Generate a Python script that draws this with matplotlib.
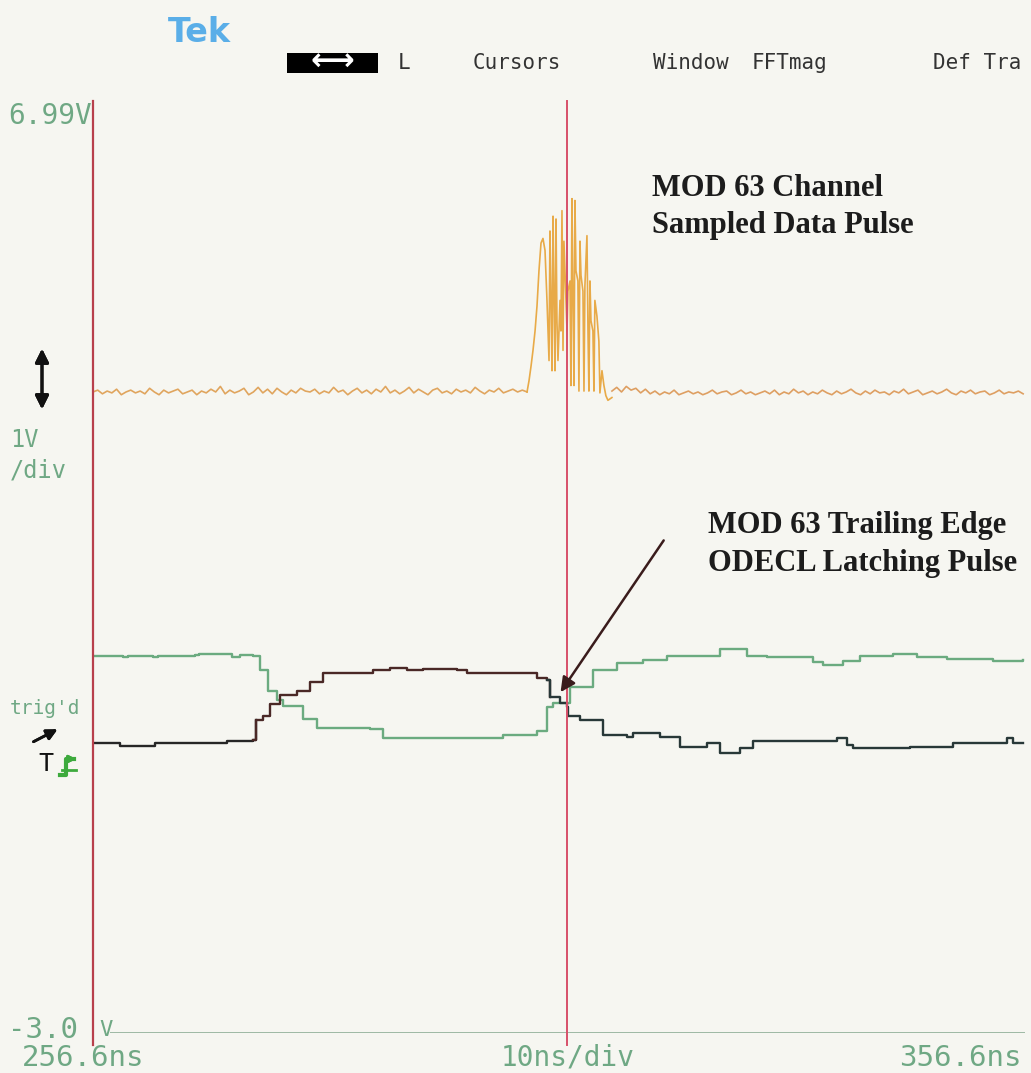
import numpy as np
import matplotlib.pyplot as plt
from matplotlib.lines import Line2D

W, H = 1031, 1073

# time axis (ns) and volts
t_start, t_stop = 256.6, 356.6
v_bot, v_top = -3.0, 7.0
cursor_t = 307.5

# channel 1: sampled data pulse (yellow/orange)
base_left_v = [3.93, 3.95, 3.91, 3.94, 3.92, 3.96, 3.90, 3.93, 3.95, 3.92, 3.94, 3.91,
               3.97, 3.93, 3.90, 3.95, 3.92, 3.94, 3.96, 3.91, 3.93, 3.95, 3.90, 3.94,
               3.92, 3.96, 3.93, 3.99, 3.91, 3.95, 3.92, 3.94, 3.97, 3.90, 3.93, 3.98,
               3.92, 3.96, 3.91, 3.97, 3.93, 3.90, 3.95, 3.92, 3.97, 3.94, 3.93, 3.96,
               3.91, 3.94, 3.92, 3.98, 3.93, 3.95, 3.90, 3.94, 3.97, 3.92, 3.95, 3.91,
               3.96, 3.93, 3.99, 3.92, 3.95, 3.91, 3.94, 3.98, 3.92, 3.96, 3.93, 3.90,
               3.95, 3.97, 3.92, 3.94, 3.91, 3.96, 3.93, 3.95, 3.92, 3.98, 3.94, 3.91,
               3.95, 3.93, 3.97, 3.92, 3.94, 3.96, 3.93, 3.95, 3.93]
pulse_t = [303.17, 303.38, 303.60, 303.81, 304.03, 304.24, 304.45, 304.67, 304.88, 305.10,
           305.31, 305.53, 305.63, 305.74, 305.85, 305.96, 306.06, 306.17, 306.28, 306.38,
           306.49, 306.71, 306.81, 306.92, 307.03, 307.13, 307.35, 307.46, 307.56, 307.78,
           307.88, 307.99, 308.10, 308.21, 308.31, 308.42, 308.63, 308.74, 308.85, 308.96,
           309.17, 309.28, 309.38, 309.60, 309.71, 309.81, 309.92, 310.03, 310.24, 310.35,
           310.45, 310.67, 310.88, 310.99, 311.21, 311.42, 311.63, 311.85, 312.28]
pulse_v = [3.93, 4.05, 4.21, 4.38, 4.59, 4.86, 5.24, 5.54, 5.59, 5.46,
           4.92, 4.27, 5.67, 4.92, 4.16, 5.83, 5.02, 4.16, 5.80, 4.70,
           4.27, 4.92, 4.59, 5.89, 4.38, 5.56, 4.92, 4.59, 5.02, 5.13,
           4.00, 6.02, 4.92, 4.00, 6.00, 5.24, 5.13, 3.94, 5.56, 5.19,
           5.02, 3.94, 5.08, 5.62, 4.59, 3.94, 5.13, 4.70, 4.59, 3.94,
           4.92, 4.75, 4.48, 3.92, 4.16, 4.00, 3.89, 3.84, 3.87]
base_right_v = [3.94, 3.98, 3.93, 3.99, 3.95, 3.97, 3.92, 3.96, 3.91, 3.94, 3.90, 3.93,
                3.91, 3.95, 3.90, 3.92, 3.94, 3.91, 3.93, 3.90, 3.92, 3.95, 3.91, 3.93,
                3.94, 3.90, 3.92, 3.95, 3.91, 3.93, 3.90, 3.92, 3.94, 3.91, 3.95, 3.90,
                3.93, 3.91, 3.96, 3.92, 3.94, 3.90, 3.93, 3.91, 3.95, 3.92, 3.90, 3.94,
                3.91, 3.93, 3.96, 3.92, 3.90, 3.94, 3.91, 3.95, 3.92, 3.93, 3.90, 3.94,
                3.92, 3.96, 3.91, 3.93, 3.95, 3.90, 3.92, 3.94, 3.91, 3.93, 3.96, 3.92,
                3.90, 3.94, 3.92, 3.95, 3.91, 3.93, 3.94, 3.90, 3.92, 3.95, 3.91, 3.93,
                3.92, 3.94, 3.91]

# channel 2 (green) and channel 3 (dark), stepped traces
green_t = [256.6, 259.8, 260.4, 263.0, 263.6, 267.5, 268.0, 271.5, 272.4, 273.8, 274.5,
           275.4, 276.3, 277.0, 279.1, 280.6, 286.3, 287.7, 300.6, 304.2, 305.3, 306.0,
           307.8, 310.2, 312.8, 315.6, 318.2, 321.0, 323.9, 326.0, 326.8, 328.9, 333.9,
           334.9, 337.1, 338.9, 342.4, 345.0, 348.2, 353.2, 356.4]
green_v = [1.08, 1.06, 1.08, 1.06, 1.08, 1.09, 1.10, 1.07, 1.09, 1.08, 0.92,
           0.70, 0.60, 0.54, 0.40, 0.30, 0.29, 0.19, 0.22, 0.27, 0.52, 0.57,
           0.74, 0.92, 1.00, 1.03, 1.08, 1.08, 1.15, 1.15, 1.08, 1.06, 1.01,
           0.98, 1.02, 1.08, 1.10, 1.06, 1.04, 1.02, 1.03]
dark_t = [256.6, 259.5, 262.7, 263.3, 266.0, 268.5, 271.0, 273.8, 274.1, 274.8, 275.6,
          276.7, 278.5, 279.9, 281.3, 286.6, 288.5, 290.3, 292.0, 295.7, 296.7, 304.2,
          305.3, 305.6, 306.7, 307.5, 307.6, 308.9, 311.3, 313.9, 314.5, 317.4, 319.6,
          322.5, 323.9, 326.0, 327.4, 333.9, 336.4, 337.5, 338.1, 344.3, 348.9, 354.7,
          355.3, 356.4]
dark_v = [0.14, 0.10, 0.10, 0.13, 0.14, 0.13, 0.16, 0.17, 0.38, 0.43, 0.56,
          0.65, 0.70, 0.79, 0.89, 0.92, 0.95, 0.92, 0.94, 0.92, 0.89, 0.84,
          0.82, 0.63, 0.57, 0.52, 0.43, 0.38, 0.22, 0.20, 0.24, 0.20, 0.09,
          0.13, 0.03, 0.08, 0.16, 0.16, 0.19, 0.11, 0.08, 0.09, 0.13, 0.19,
          0.13, 0.14]

bg = '#f6f6f1'
scope_green = '#6fa884'

fig = plt.figure(figsize=(W / 100, H / 100), dpi=100, facecolor=bg)
ax = fig.add_axes([93 / W, 1 - 1033 / H, (1025 - 93) / W, (1033 - 108) / H])
ax.set_facecolor(bg)
ax.set_xlim(t_start, t_stop)
ax.set_ylim(v_bot, v_top)
ax.axis('off')


def px(x, y):
    return x / W, 1 - y / H


# yellow channel
tl = np.linspace(t_start, pulse_t[0], len(base_left_v))
tr = np.linspace(pulse_t[-1], t_stop - 0.2, len(base_right_v))
ax.plot(tl, base_left_v, color='#e0a55e', lw=1.2)
ax.plot(pulse_t, pulse_v, color='#e8aa48', lw=1.2)
ax.plot(tr, base_right_v, color='#de9f62', lw=1.2)

# green and dark channels
ax.plot(green_t, green_v, color='#6bab80', lw=1.7, drawstyle='steps-post')
gt = np.array(dark_t)
gv = np.array(dark_v)
seg1 = gt <= 274.1
seg2 = (gt >= 273.8) & (gt <= 305.6)
seg3 = gt >= 305.3
ax.plot(gt[seg1], gv[seg1], color='#262626', lw=1.7, drawstyle='steps-post')
ax.plot(gt[seg2], gv[seg2], color='#4a2826', lw=1.7, drawstyle='steps-post')
ax.plot(gt[seg3], gv[seg3], color='#283838', lw=1.7, drawstyle='steps-post')

# baseline at bottom
ax.hlines(v_bot, 258.4, t_stop, color='#8fae98', lw=1.2)

# cursors
ax.axvline(t_start, ymin=-0.013, ymax=1.008, color='#b8404c', lw=1.6, clip_on=False)
ax.axvline(cursor_t, ymin=-0.013, ymax=1.008, color='#d8506a', lw=1.4, clip_on=False)

# annotations
serif = 'Liberation Serif'
ax.text(316.6, 6.29, 'MOD 63 Channel\nSampled Data Pulse', family=serif, weight='bold',
        fontsize=22, color='#1c1c1c', va='top', ha='left', linespacing=1.38)
ax.text(322.6, 2.64, 'MOD 63 Trailing Edge\nODECL Latching Pulse', family=serif,
        weight='bold', fontsize=22, color='#1c1c1c', va='top', ha='left', linespacing=1.38)
ax.annotate('', xy=(306.6, 0.66), xytext=(318.0, 2.35),
            arrowprops=dict(arrowstyle='-|>', color='#3a1c1c', lw=1.8, mutation_scale=22))

# scope labels
mono = 'DejaVu Sans Mono'
fig.text(*px(8, 116), '6.99V', family=mono, fontsize=20, color=scope_green, va='center')
fig.text(*px(8, 1030), '-3.0', family=mono, fontsize=21, color=scope_green, va='center')
fig.text(*px(99, 1030), 'V', family=mono, fontsize=16, color=scope_green, va='center')
fig.text(*px(22, 1058), '256.6ns', family=mono, fontsize=21, color=scope_green, va='center')
fig.text(*px(568, 1058), '10ns/div', family=mono, fontsize=20, color=scope_green,
         va='center', ha='center')
fig.text(*px(1022, 1058), '356.6ns', family=mono, fontsize=21, color=scope_green,
         va='center', ha='right')
fig.text(*px(10, 440), '1V', family=mono, fontsize=17, color=scope_green, va='center')
fig.text(*px(10, 470), '/div', family=mono, fontsize=17, color=scope_green, va='center')
fig.text(*px(10, 708), "trig'd", family=mono, fontsize=14, color=scope_green, va='center')

# menu bar
fig.text(*px(168, 33), 'Tek', family='DejaVu Sans', fontsize=24, color='#5aaee8',
         va='center', weight='bold')
box = plt.Rectangle(px(287, 73), 91 / W, 20 / H, transform=fig.transFigure,
                    facecolor='black', edgecolor='none')
fig.patches.append(box)
fig.text(*px(332, 62), '\u27f7', fontsize=22, color='white', va='center', ha='center',
         weight='bold', family='DejaVu Sans')
menu = [('L', 398), ('Cursors', 473), ('Window', 653), ('FFTmag', 752), ('Def Tra', 933)]
for label, x in menu:
    fig.text(*px(x, 63), label, family=mono, fontsize=15, color='#333333', va='center')

# side markers
fig.add_artist(plt.annotate('', xy=px(42, 346), xytext=px(42, 412), xycoords='figure fraction',
                            textcoords='figure fraction',
                            arrowprops=dict(arrowstyle='<|-|>', color='#111111', lw=2.2,
                                            mutation_scale=20)))
fig.add_artist(plt.annotate('', xy=px(60, 728), xytext=px(31, 743), xycoords='figure fraction',
                            textcoords='figure fraction',
                            arrowprops=dict(arrowstyle='-|>', color='#111111', lw=2.0,
                                            mutation_scale=16)))
fig.text(*px(38, 764), 'T', family=mono, fontsize=18, color='#111111', va='center')
trig_x = [px(60, 775)[0], px(66, 775)[0], px(66, 759)[0], px(74, 759)[0]]
trig_y = [px(60, 775)[1], px(66, 775)[1], px(66, 759)[1], px(74, 759)[1]]
fig.add_artist(Line2D(trig_x, trig_y, color='#3daa3d', lw=3, transform=fig.transFigure))
fig.add_artist(plt.annotate('', xy=px(79, 759), xytext=px(70, 759), xycoords='figure fraction',
                            textcoords='figure fraction',
                            arrowprops=dict(arrowstyle='-|>', color='#3daa3d', lw=2,
                                            mutation_scale=10)))
fig.add_artist(Line2D([px(62, 770)[0], px(76, 770)[0]], [px(62, 770)[1], px(76, 770)[1]],
                      color='#3daa3d', lw=2, transform=fig.transFigure))

fig.savefig('out.png', dpi=100, facecolor=bg)
